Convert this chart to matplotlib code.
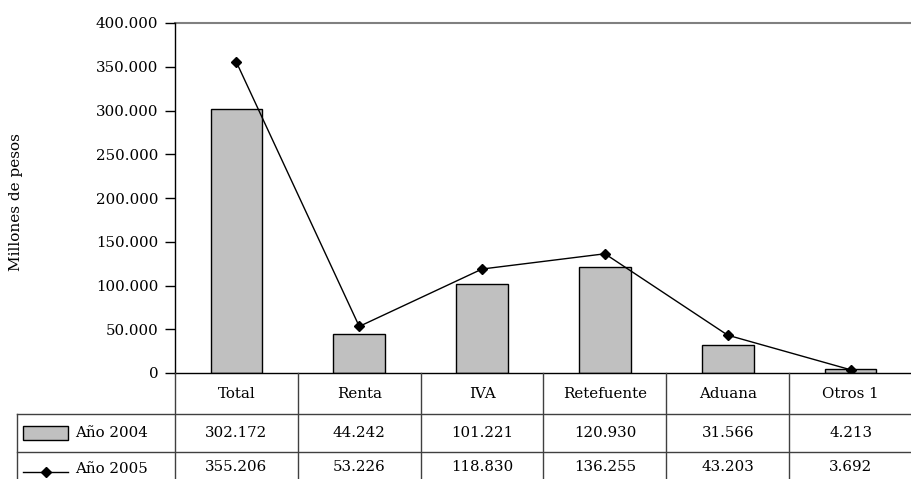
import matplotlib

matplotlib.use("Agg")

import matplotlib.pyplot as plt
from matplotlib.patches import Rectangle
from matplotlib.lines import Line2D
from matplotlib.ticker import FuncFormatter

categories = ["Total", "Renta", "IVA", "Retefuente", "Aduana", "Otros 1"]
values_2004 = [302172, 44242, 101221, 120930, 31566, 4213]
values_2005 = [355206, 53226, 118830, 136255, 43203, 3692]
series_names = ["Año 2004", "Año 2005"]
y_ticks = [0, 50000, 100000, 150000, 200000, 250000, 300000, 350000, 400000]

BAR_COLOR = "#C0C0C0"
GRID_COLOR = "#808080"
TABLE_COLOR = "#404040"
FONT = "DejaVu Serif"
FS = 10.8


def fmt_thousands(v, pos=None):
    return f"{int(round(v)):,}".replace(",", ".")


def main() -> None:
    plt.rcParams["font.family"] = FONT
    W, H = 912, 479
    fig = plt.figure(figsize=(W / 100, H / 100), dpi=100)

    left, right, top, bottom = 175, 912, 23, 373
    ax = fig.add_axes([left / W, (H - bottom) / H, (right - left) / W, (bottom - top) / H])

    x = list(range(len(categories)))
    ax.bar(x, values_2004, width=0.42, color=BAR_COLOR, edgecolor="black",
           linewidth=1.0, zorder=2)
    ax.plot(x, values_2005, color="black", linewidth=1.0, marker="D",
            markersize=5.5, zorder=3)

    ax.set_xlim(-0.5, len(categories) - 0.5)
    ax.set_ylim(0, 400000)
    ax.set_yticks(y_ticks)
    ax.yaxis.set_major_formatter(FuncFormatter(fmt_thousands))
    ax.tick_params(axis="y", direction="out", length=7, width=1, pad=5,
                   labelsize=FS, colors="black")
    ax.set_xticks([])
    ax.axhline(400000, color=GRID_COLOR, linewidth=1.5, zorder=1, clip_on=False)
    for s in ["top", "right"]:
        ax.spines[s].set_visible(False)
    ax.spines["left"].set_linewidth(1.0)
    ax.spines["bottom"].set_linewidth(1.0)

    fig.text(16 / W, (H - 202) / H, "Millones de pesos", rotation=90,
             ha="center", va="center", fontsize=11)

    # data table below the plot, drawn in figure pixel coords
    def fx(px):
        return px / W

    def fy(py):
        return (H - py) / H

    col_w = (right - left) / len(categories)
    leg_left = 17
    row_lines = [373, 414, 452, 491]

    def hline(y0, x0, x1):
        fig.add_artist(Line2D([fx(x0), fx(x1)], [fy(y0), fy(y0)],
                              color=TABLE_COLOR, linewidth=1.0))

    def vline(x0, y0, y1):
        fig.add_artist(Line2D([fx(x0), fx(x0)], [fy(y0), fy(y1)],
                              color=TABLE_COLOR, linewidth=1.0))

    hline(row_lines[1], leg_left, right)
    hline(row_lines[2], leg_left, right)
    vline(leg_left, row_lines[1], row_lines[3])
    for i in range(len(categories)):
        vline(left + i * col_w, row_lines[0], row_lines[3])

    for i, cat in enumerate(categories):
        cx = left + (i + 0.5) * col_w
        fig.text(fx(cx), fy((row_lines[0] + row_lines[1]) / 2), cat,
                 ha="center", va="center", fontsize=FS)
        fig.text(fx(cx), fy((row_lines[1] + row_lines[2]) / 2),
                 fmt_thousands(values_2004[i]), ha="center", va="center", fontsize=FS)
        fig.text(fx(cx), fy(467), fmt_thousands(values_2005[i]),
                 ha="center", va="center", fontsize=FS)

    # legend keys in first column
    ry = (row_lines[1] + row_lines[2]) / 2
    fig.add_artist(Rectangle((fx(23), fy(ry + 7)), fx(68) - fx(23), fy(ry - 7) - fy(ry + 7),
                             facecolor=BAR_COLOR, edgecolor="black", linewidth=1.0,
                             transform=fig.transFigure))
    fig.text(fx(75), fy(ry), series_names[0], ha="left", va="center", fontsize=FS)
    fig.add_artist(Line2D([fx(23), fx(68)], [fy(472), fy(472)], color="black",
                          linewidth=1.0))
    fig.add_artist(Line2D([fx(45.5)], [fy(472)], color="black", marker="D",
                          markersize=5.5, linestyle="none"))
    fig.text(fx(75), fy(469), series_names[1], ha="left", va="center", fontsize=FS)

    fig.savefig("out.png", dpi=100)
    plt.close(fig)


if __name__ == "__main__":
    main()
